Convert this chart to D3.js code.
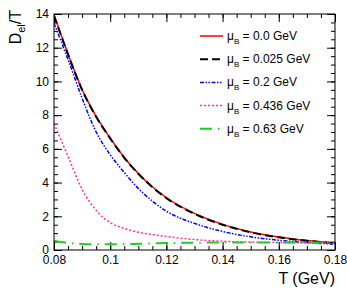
<!DOCTYPE html>
<html>
<head>
<meta charset="utf-8">
<script src="https://cdn.jsdelivr.net/npm/d3@7"></script>
<style>
  body { margin: 0; background: #fff; }
  svg { font-family: "Liberation Sans", Arial, sans-serif; }
  .tick text { font-size: 12px; fill: #000; }
  .domain { display: none; }
  .tick line { stroke: #000; stroke-width: 1; }
</style>
</head>
<body>
<script>
// temperature grid (GeV)
var temps = [0.08, 0.085, 0.09, 0.095, 0.10, 0.105, 0.11, 0.115, 0.12, 0.13, 0.14, 0.15, 0.16, 0.17, 0.18];

// D_el/T for each muB
var mu000 = [13.95, 11.62, 9.52, 7.92, 6.64, 5.49, 4.54, 3.75, 3.1, 2.17, 1.52, 1.07, 0.77, 0.56, 0.41];
var mu025 = [13.9, 11.6, 9.5, 7.9, 6.62, 5.47, 4.52, 3.73, 3.08, 2.15, 1.5, 1.05, 0.75, 0.55, 0.4];
var mu200 = [13.45, 11.3, 9.0, 7.0, 5.65, 4.6, 3.65, 2.9, 2.3, 1.58, 1.1, 0.78, 0.58, 0.44, 0.35];
var mu436 = [7.5, 5.55, 3.6, 2.35, 1.62, 1.28, 1.05, 0.92, 0.8, 0.62, 0.52, 0.47, 0.44, 0.42, 0.4];
var mu630 = [0.55, 0.42, 0.36, 0.34, 0.34, 0.35, 0.37, 0.39, 0.41, 0.43, 0.45, 0.45, 0.45, 0.45, 0.45];

var labels = ["0.0", "0.025", "0.2", "0.436", "0.63"];

var xTicks = [0.08, 0.1, 0.12, 0.14, 0.16, 0.18];
var xTickLabels = ["0.08", "0.1", "0.12", "0.14", "0.16", "0.18"];
var yTicks = [0, 2, 4, 6, 8, 10, 12, 14];

var w = 347, h = 301;
var pLeft = 54, pRight = 335, pTop = 14, pBottom = 250;

var series = [
  {vals: mu000, color: "#ff0000", width: 1.5, dash: null},
  {vals: mu025, color: "#000000", width: 2, dash: "8,4"},
  {vals: mu200, color: "#0000ff", width: 1.5, dash: "4,1.5,1.5,1.5,1.5,1.5"},
  {vals: mu436, color: "#ff3399", width: 1.5, dash: "2,2"},
  {vals: mu630, color: "#22cc22", width: 2, dash: "12,6,1.5,6"}
];

var x = d3.scaleLinear().domain([0.08, 0.18]).range([pLeft, pRight]);
var y = d3.scaleLinear().domain([0, 14]).range([pBottom, pTop]);

var svg = d3.select("body").append("svg")
    .attr("width", w)
    .attr("height", h);

// minor ticks
var xMinor = d3.range(0.08, 0.1801, 0.005);
var yMinor = d3.range(0, 14.01, 0.5);

svg.append("g")
    .attr("transform", "translate(0," + pBottom + ")")
    .call(d3.axisBottom(x).tickValues(xMinor).tickSize(-4).tickFormat(""));
svg.append("g")
    .attr("transform", "translate(0," + pTop + ")")
    .call(d3.axisTop(x).tickValues(xMinor).tickSize(-4).tickFormat(""));
svg.append("g")
    .attr("transform", "translate(" + pLeft + ",0)")
    .call(d3.axisLeft(y).tickValues(yMinor).tickSize(-4).tickFormat(""));
svg.append("g")
    .attr("transform", "translate(" + pRight + ",0)")
    .call(d3.axisRight(y).tickValues(yMinor).tickSize(-4).tickFormat(""));

// major ticks
svg.append("g")
    .attr("transform", "translate(0," + pBottom + ")")
    .call(d3.axisBottom(x).tickValues(xTicks).tickSize(-8).tickPadding(4)
      .tickFormat(function(d, i) { return xTickLabels[i]; }))
  .selectAll(".tick text").attr("y", 5);
svg.append("g")
    .attr("transform", "translate(0," + pTop + ")")
    .call(d3.axisTop(x).tickValues(xTicks).tickSize(-8).tickFormat(""));
svg.append("g")
    .attr("transform", "translate(" + pLeft + ",0)")
    .call(d3.axisLeft(y).tickValues(yTicks).tickSize(-8).tickFormat(d3.format("d")))
  .selectAll(".tick text").attr("x", -5);
svg.append("g")
    .attr("transform", "translate(" + pRight + ",0)")
    .call(d3.axisRight(y).tickValues(yTicks).tickSize(-8).tickFormat(""));

// curves
var line = d3.line()
    .x(function(d) { return x(d[0]); })
    .y(function(d) { return y(d[1]); })
    .curve(d3.curveMonotoneX);

svg.append("clipPath").attr("id", "plot")
  .append("rect").attr("x", pLeft).attr("y", pTop)
  .attr("width", pRight - pLeft).attr("height", pBottom - pTop);

series.forEach(function(s) {
  svg.append("path")
      .datum(temps.map(function(t, i) { return [t, s.vals[i]]; }))
      .attr("clip-path", "url(#plot)")
      .attr("fill", "none")
      .attr("stroke", s.color)
      .attr("stroke-width", s.width)
      .attr("stroke-dasharray", s.dash)
      .attr("d", line);
});

// frame
svg.append("rect")
    .attr("x", pLeft).attr("y", pTop)
    .attr("width", pRight - pLeft).attr("height", pBottom - pTop)
    .attr("fill", "none").attr("stroke", "#000").attr("stroke-width", 1);

// legend
var leg = svg.append("g");
series.forEach(function(s, i) {
  var ly = 36 + i * 23.2;
  leg.append("line")
      .attr("x1", 200).attr("x2", 223)
      .attr("y1", ly).attr("y2", ly)
      .attr("stroke", s.color)
      .attr("stroke-width", s.width)
      .attr("stroke-dasharray", s.dash);
  var t = leg.append("text")
      .attr("x", 227).attr("y", ly + 4)
      .attr("font-size", 12);
  t.append("tspan").text("\u03bc");
  t.append("tspan").attr("dy", 4).attr("font-size", 8).text("B");
  t.append("tspan").attr("dy", -4).text(" = " + labels[i] + " GeV");
});

// axis titles
svg.append("text")
    .attr("x", 335).attr("y", 284)
    .attr("text-anchor", "end")
    .attr("font-size", 16)
    .text("T (GeV)");

var yt = svg.append("text")
    .attr("transform", "translate(21,10) rotate(-90)")
    .attr("text-anchor", "end")
    .attr("font-size", 16);
yt.append("tspan").text("D");
yt.append("tspan").attr("dy", 4).attr("font-size", 11).text("el");
yt.append("tspan").attr("dy", -4).text("/T");
</script>
</body>
</html>
